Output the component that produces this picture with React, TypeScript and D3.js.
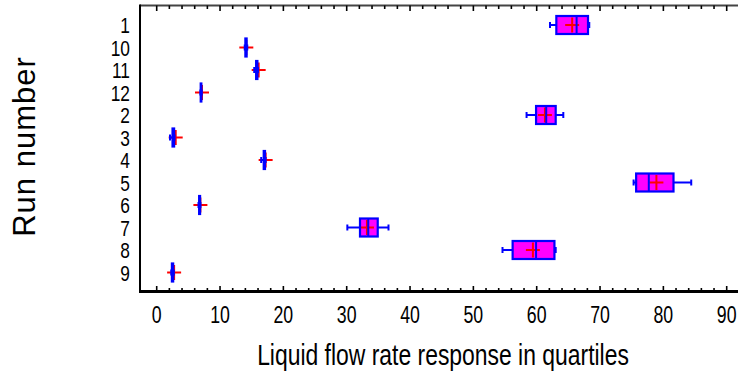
import React from "react";
import * as d3 from "d3";

const categories = ["1", "10", "11", "12", "2", "3", "4", "5", "6", "7", "8", "9"];
const lowWhisker = [62.1, 13.9, 15.4, 6.9, 58.4, 2.1, 16.5, 75.3, 6.6, 30.1, 54.6, 2.3];
const q1 = [63.1, 14.0, 15.7, 6.95, 59.9, 2.5, 16.9, 75.7, 6.7, 32.1, 56.2, 2.4];
const median = [66.3, 14.1, 15.8, 7.0, 61.5, 2.6, 17.0, 77.7, 6.8, 33.4, 59.9, 2.5];
const q3 = [68.1, 14.2, 15.9, 7.05, 63.0, 2.75, 17.1, 81.6, 6.85, 34.9, 62.8, 2.6];
const highWhisker = [68.3, 14.3, 16.0, 7.1, 64.2, 2.8, 17.2, 84.4, 6.9, 36.6, 63.0, 2.7];
const means = [65.6, 14.15, 16.1, 7.15, 61.3, 3.0, 17.2, 78.9, 6.9, 33.2, 59.4, 2.75];
const xTicks = [0, 10, 20, 30, 40, 50, 60, 70, 80, 90];
const minorTicks = d3.range(0, 91, 2);

const W = 738;
const H = 373;
const left = 140;
const right = 738;
const top = 5.5;
const bottom = 291.5;
const SX = 0.77;

export default function App() {
  const x = d3.scaleLinear().domain([0, 90]).range([156.7, 726.7]);
  const y = d3.scalePoint<string>().domain(categories).range([25, 272.5]);
  const font = "'Liberation Sans', Arial, sans-serif";
  const bh = 18;
  return (
    <svg width={W} height={H} style={{ position: "absolute", left: 0, top: 0 }}>
      <rect width={W} height={H} fill="#fff" />
      {/* frame */}
      <line x1={left} x2={right} y1={top} y2={top} stroke="#444" strokeWidth={2} />
      <line x1={left} x2={left} y1={top - 1} y2={bottom + 1} stroke="#000" strokeWidth={2} />
      <line x1={left - 1} x2={right} y1={bottom} y2={bottom} stroke="#000" strokeWidth={3} />
      {minorTicks.map((t) => {
        const major = t % 10 === 0;
        const len = major ? 5.5 : 3.5;
        return (
          <g key={t}>
            <line x1={x(t)} x2={x(t)} y1={top} y2={top + len} stroke="#000" strokeWidth={1.6} />
            <line x1={x(t)} x2={x(t)} y1={bottom} y2={bottom - len} stroke="#000" strokeWidth={1.6} />
          </g>
        );
      })}
      {/* boxes */}
      {categories.map((c, i) => {
        const cy = y(c)!;
        const x1 = x(q1[i]);
        const x2 = x(q3[i]);
        return (
          <g key={c}>
            <rect x={x1} y={cy - bh / 2} width={Math.max(0.1, x2 - x1)} height={bh} fill="#ff00ff" />
            <line x1={x(means[i]) - 7} x2={x(means[i]) + 7} y1={cy} y2={cy} stroke="#ff0000" strokeWidth={2} />
            <line x1={x(means[i])} x2={x(means[i])} y1={cy - 7.5} y2={cy + 7.5} stroke="#ff0000" strokeWidth={2} />
            <line x1={x(lowWhisker[i])} x2={x1} y1={cy} y2={cy} stroke="#0000ff" strokeWidth={2} />
            <line x1={x2} x2={x(highWhisker[i])} y1={cy} y2={cy} stroke="#0000ff" strokeWidth={2} />
            <line x1={x(lowWhisker[i])} x2={x(lowWhisker[i])} y1={cy - 3} y2={cy + 3} stroke="#0000ff" strokeWidth={2} />
            <line x1={x(highWhisker[i])} x2={x(highWhisker[i])} y1={cy - 3} y2={cy + 3} stroke="#0000ff" strokeWidth={2} />
            <rect x={x1} y={cy - bh / 2} width={Math.max(0.1, x2 - x1)} height={bh} fill="none" stroke="#0000ff" strokeWidth={2.2} />
            <line x1={x(median[i])} x2={x(median[i])} y1={cy - bh / 2} y2={cy + bh / 2} stroke="#0000ff" strokeWidth={2} />
          </g>
        );
      })}
      {/* y labels */}
      {categories.map((c) => (
        <text
          key={c}
          transform={`translate(130,${y(c)! + 8}) scale(${SX},1)`}
          textAnchor="end"
          fontFamily={font}
          fontSize={22.5}
          fill="#000"
        >
          {c}
        </text>
      ))}
      {/* x labels */}
      {xTicks.map((t) => (
        <text
          key={t}
          transform={`translate(${x(t)},323) scale(${SX},1)`}
          textAnchor="middle"
          fontFamily={font}
          fontSize={23}
          fill="#000"
        >
          {t}
        </text>
      ))}
      <text
        transform={`translate(443,364.5) scale(0.79,1)`}
        textAnchor="middle"
        fontFamily={font}
        fontSize={29}
        fill="#000"
      >
        Liquid flow rate response in quartiles
      </text>
      <text
        transform="translate(35,146.5) rotate(-90)"
        textAnchor="middle"
        fontFamily={font}
        fontSize={31}
        letterSpacing={1}
        fill="#000"
      >
        Run number
      </text>
    </svg>
  );
}
